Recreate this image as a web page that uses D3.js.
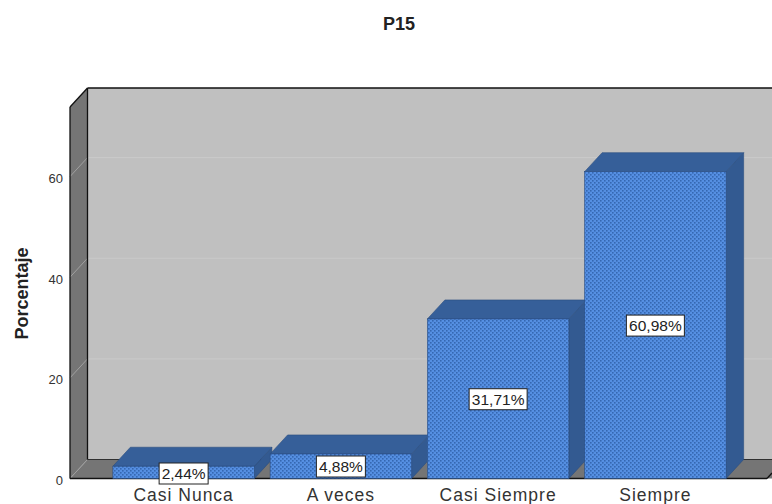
<!DOCTYPE html>
<html>
<head>
<meta charset="utf-8">
<script src="https://cdn.jsdelivr.net/npm/d3@7"></script>
<style>
html,body{margin:0;padding:0;background:#fff;overflow:hidden}
svg{display:block;font-family:"Liberation Sans",Arial,sans-serif}
</style>
</head>
<body>
<svg id="chart" width="772" height="504"></svg>
<script>
const categories = ["Casi Nunca", "A veces", "Casi Siempre", "Siempre"];
const percentages = [2.44, 4.88, 31.71, 60.98];
const valueLabels = ["2,44%", "4,88%", "31,71%", "60,98%"];
const valueTicks = [0, 20, 40, 60];
const chartTitle = "P15";
const valueAxisTitle = "Porcentaje";

const svg = d3.select("#chart");
const depthX = 17.5, depthY = 19;
const frontLeft = 70, frontRight = 772, frontBase = 478.5;

const y = d3.scaleLinear().domain([0, 60]).range([frontBase, 176.6]);
const x = d3.scaleBand().domain(categories).range([105, 734]).paddingInner(0.1).paddingOuter(0.05);
const plotTop = 107;

const defs = svg.append("defs");
const dots = defs.append("pattern").attr("id", "barDots")
  .attr("patternUnits", "userSpaceOnUse").attr("width", 4).attr("height", 4);
dots.append("rect").attr("width", 4).attr("height", 4).attr("fill", "#558fe2");
dots.append("rect").attr("x", 0).attr("y", 0).attr("width", 1.6).attr("height", 1.6).attr("fill", "#3568b2");
dots.append("rect").attr("x", 2).attr("y", 2).attr("width", 1.6).attr("height", 1.6).attr("fill", "#3568b2");

const poly = (pts, fill, stroke, sw) => svg.append("polygon")
  .attr("points", pts.map(p => p.join(",")).join(" "))
  .attr("fill", fill).attr("stroke", stroke || "none").attr("stroke-width", sw || 0);

// Back wall, side wall and floor of the 3D box
poly([[frontLeft + depthX, plotTop - depthY], [frontRight + depthX, plotTop - depthY],
      [frontRight + depthX, frontBase - depthY], [frontLeft + depthX, frontBase - depthY]], "#c0c0c0");
poly([[frontLeft, plotTop], [frontLeft + depthX, plotTop - depthY],
      [frontLeft + depthX, frontBase - depthY], [frontLeft, frontBase]], "#757575");
poly([[frontLeft, frontBase], [frontLeft + depthX, frontBase - depthY],
      [frontRight + depthX, frontBase - depthY], [frontRight, frontBase]], "#757575");

// Gridlines on the back wall and their continuation across the side wall
valueTicks.slice(1).forEach(t => {
  svg.append("line").attr("x1", frontLeft + depthX).attr("x2", frontRight)
    .attr("y1", y(t) - depthY).attr("y2", y(t) - depthY)
    .attr("stroke", "#cacaca").attr("stroke-width", 1);
  svg.append("line").attr("x1", frontLeft).attr("x2", frontLeft + depthX)
    .attr("y1", y(t)).attr("y2", y(t) - depthY)
    .attr("stroke", "#a0a0a0").attr("stroke-width", 1);
});
svg.append("line").attr("x1", frontLeft).attr("x2", frontLeft + depthX)
  .attr("y1", frontBase).attr("y2", frontBase - depthY)
  .attr("stroke", "#a0a0a0").attr("stroke-width", 1);

// Box edges
const edge = (x1, y1, x2, y2, w) => svg.append("line")
  .attr("x1", x1).attr("y1", y1).attr("x2", x2).attr("y2", y2)
  .attr("stroke", "#111").attr("stroke-width", w || 1.3);
edge(frontLeft + depthX, plotTop - depthY, frontRight, plotTop - depthY);
edge(frontLeft + depthX, plotTop - depthY, frontLeft + depthX, frontBase - depthY);
edge(frontLeft + depthX, frontBase - depthY, frontRight, frontBase - depthY, 0.8);
edge(frontLeft, plotTop, frontLeft + depthX, plotTop - depthY);
edge(frontLeft, plotTop, frontLeft, frontBase);
edge(frontLeft, frontBase, 767, frontBase);
edge(767, frontBase, 772, frontBase - 5.5);

// Bars: side face, top face, then the dotted front face
const bars = svg.append("g").selectAll("g").data(categories).join("g");
bars.append("polygon")
  .attr("fill", "#335a91").attr("stroke", "#2a4d80").attr("stroke-width", 0.6)
  .attr("points", (c, i) => {
    const r = x(c) + x.bandwidth(), t = y(percentages[i]);
    return [[r, t], [r + depthX, t - depthY], [r + depthX, frontBase - depthY], [r, frontBase]].map(p => p.join(",")).join(" ");
  });
bars.append("polygon")
  .attr("fill", "#365f99").attr("stroke", "#2a4d80").attr("stroke-width", 0.6)
  .attr("points", (c, i) => {
    const l = x(c), r = l + x.bandwidth(), t = y(percentages[i]);
    return [[l, t], [l + depthX, t - depthY], [r + depthX, t - depthY], [r, t]].map(p => p.join(",")).join(" ");
  });
bars.append("rect")
  .attr("x", c => x(c)).attr("width", x.bandwidth())
  .attr("y", (c, i) => y(percentages[i]))
  .attr("height", (c, i) => frontBase - y(percentages[i]))
  .attr("fill", "url(#barDots)").attr("stroke", "#2a4d80").attr("stroke-width", 0.6);

// Value labels in boxes; short bars keep the label against the baseline
const labels = svg.append("g").selectAll("g").data(categories).join("g")
  .attr("transform", (c, i) => {
    const v = percentages[i];
    const cy = v < 3 ? 473.5 : v < 6 ? 466.5 : y(v / 2) + 0.5;
    return `translate(${x(c) + x.bandwidth() / 2},${cy})`;
  });
labels.append("rect")
  .attr("x", (c, i) => -(valueLabels[i].length > 5 ? 29 : 24.5))
  .attr("width", (c, i) => valueLabels[i].length > 5 ? 58 : 49)
  .attr("y", -10.5).attr("height", 21)
  .attr("fill", "#fff").attr("stroke", "#222").attr("stroke-width", 1);
labels.append("text").text((c, i) => valueLabels[i])
  .attr("text-anchor", "middle").attr("dy", "0.36em")
  .attr("font-size", 15.5).attr("fill", "#222");

// Value axis, built with d3.axisLeft with its domain line and tick marks hidden
const yAxis = svg.append("g").attr("transform", `translate(${frontLeft},0)`)
  .call(d3.axisLeft(y).tickValues(valueTicks).tickSize(0).tickPadding(7));
yAxis.select(".domain").remove();
yAxis.selectAll(".tick text").attr("font-size", 13).attr("fill", "#333").attr("dy", "0.45em")
  .attr("font-family", '"Liberation Sans",Arial,sans-serif');

// Category labels
const xAxis = svg.append("g").attr("transform", `translate(0,${frontBase})`)
  .call(d3.axisBottom(x).tickSize(0).tickPadding(10));
xAxis.select(".domain").remove();
xAxis.selectAll(".tick text").attr("font-size", 17.5).attr("letter-spacing", 1).attr("fill", "#333")
  .attr("font-family", '"Liberation Sans",Arial,sans-serif');

svg.append("text").text(chartTitle).attr("x", 399).attr("y", 30)
  .attr("text-anchor", "middle").attr("font-size", 18).attr("font-weight", "bold").attr("fill", "#222");
svg.append("text").text(valueAxisTitle)
  .attr("transform", "translate(28,293.5) rotate(-90)")
  .attr("text-anchor", "middle").attr("font-size", 18).attr("font-weight", "bold").attr("fill", "#222");
</script>
</body>
</html>
